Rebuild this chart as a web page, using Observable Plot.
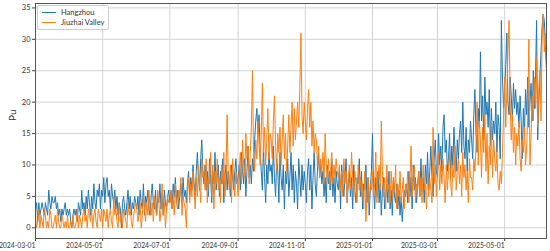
<!DOCTYPE html>
<html><head><meta charset="utf-8">
<script src="https://cdn.jsdelivr.net/npm/d3@7"></script>
<script src="https://cdn.jsdelivr.net/npm/@observablehq/plot@0.6"></script>
<style>
body{margin:0;background:#fff;}
#wrap{position:relative;width:550px;height:251px;font-family:Lato,"DejaVu Sans",sans-serif;}
#legend{position:absolute;left:37px;top:5px;padding:2px 4px 2px 0;border:1px solid #ccc;border-radius:2px;background:rgba(255,255,255,0.85);font-size:7.5px;color:#333;white-space:nowrap;}
#legend .row{display:flex;align-items:center;height:9.5px;}
#legend .sw{width:14px;height:0;border-top:1.2px solid;margin:0 5px 0 4px;}
</style></head><body><div id="wrap"></div>
<script>
const seriesNames = ["Hangzhou", "Jiuzhai Valley"];
const seriesColors = ["#1f77b4", "#ff7f0e"];
const startDay = "2024-03-01";
const xTickLabels = ["2024-03-01","2024-05-01","2024-07-01","2024-09-01","2024-11-01","2025-01-01","2025-03-01","2025-05-01"];
const yTickValues = [0,5,10,15,20,25,30,35];
const yLabel = "Pu";

// Daily values from 2024-03-01, month by month
const hangzhou = [
 3,4,1,4,2,3,4,3,2,4,3,2,6,4,3,5,4,4,5,3,4,2,3,1,3,2,3,4,2,3,2,
 3,1,0,2,3,2,3,1,4,3,2,6,3,4,2,5,3,6,4,2,5,3,7,4,3,6,5,7,3,6,
 5,8,4,7,8,5,6,3,7,5,4,6,3,5,2,4,3,0,4,5,3,2,4,6,3,5,2,4,3,5,4,
 3,5,2,6,4,3,7,2,5,4,6,3,2,5,7,4,3,6,2,5,4,7,3,5,2,6,4,3,5,6,
 4,6,3,7,5,8,4,6,3,5,7,4,8,5,6,4,7,9,5,8,6,10,7,5,9,12,8,6,11,14,9,
 7,10,6,9,5,11,8,4,9,7,12,6,8,10,5,9,7,11,4,8,10,6,9,7,5,10,8,6,9,11,7,
 8,10,6,12,9,7,11,5,9,13,8,10,7,11,9,14,17,19,15,18,12,9,6,13,8,4,10,7,12,9,
 10,7,13,8,5,11,9,4,12,8,6,10,3,9,7,11,5,8,12,6,10,4,9,7,3,11,8,5,10,6,9,
 7,4,9,11,6,10,3,8,12,7,5,9,12,8,10,7,9,5,8,4,10,7,9,6,11,5,8,4,9,7,
 6,9,3,10,7,5,8,11,4,7,9,5,8,3,10,6,4,8,7,11,5,9,3,7,6,10,4,8,2,6,9,
 15,6,3,8,5,9,4,7,2,6,8,3,5,7,4,9,3,6,2,8,5,4,7,3,6,2,5,1,4,6,5,
 7,4,9,5,8,3,10,6,8,4,7,9,5,11,6,8,4,10,7,12,6,9,13,8,5,11,14,9,
 8,15,10,13,9,16,18,12,14,9,11,15,8,13,10,16,12,9,14,11,15,17,12,20,13,11,16,9,14,12,17,
 14,11,18,22,15,12,19,16,28,17,21,14,24,18,20,16,22,13,19,14,17,15,20,12,18,16,11,33,24,19,
 22,26,31,20,18,24,21,17,23,19,22,18,20,16,21,17,11,19,15,22,18,24,16,20,23,17,25,19,24,33,14,
 20,24,28,32,34,33,29,25
];
const jiuzhai = [
 2,0,1,3,0,2,1,0,3,2,0,1,0,3,2,0,0,1,2,0,3,1,0,0,2,1,0,1,0,2,0,
 0,1,0,2,0,0,1,3,0,2,1,0,2,3,1,2,0,3,2,1,3,0,2,3,1,0,3,2,1,3,
 0,3,2,1,3,0,2,3,1,0,5,2,3,1,0,4,1,2,0,3,2,1,0,4,2,3,1,0,2,3,4,
 3,1,2,4,0,2,5,3,1,4,2,6,3,2,4,1,5,3,2,6,4,1,3,7,2,4,0,3,5,4,
 4,6,3,5,2,7,4,3,6,5,8,2,5,4,3,0,6,8,4,7,5,9,6,3,8,5,10,7,4,11,8,
 9,6,11,4,8,7,12,5,10,3,9,7,11,6,8,4,10,7,12,5,9,18,8,6,10,4,11,7,5,9,8,
 5,9,12,7,14,10,8,15,11,13,7,12,16,25,12,9,14,11,17,13,10,15,23,12,16,10,14,19,11,15,
 14,11,17,21,13,9,15,12,16,10,14,18,11,15,9,13,18,12,16,20,13,19,14,17,20,16,22,31,18,15,20,
 17,14,19,22,16,20,13,17,12,15,14,10,13,8,11,9,12,7,15,10,8,11,6,9,12,7,10,8,11,9,
 8,10,6,9,5,11,7,9,4,8,10,6,12,8,5,9,7,4,10,6,8,5,7,3,9,1,5,8,4,7,6,
 9,5,7,12,4,8,10,6,17,9,5,8,3,10,6,7,4,9,5,8,6,10,3,7,5,9,4,6,8,3,7,
 6,9,4,7,13,5,8,10,4,7,6,9,5,8,4,10,6,7,3,9,5,8,6,4,16,7,10,5,
 9,12,6,10,7,11,8,4,10,6,9,12,7,5,10,8,13,6,9,11,7,10,5,12,8,10,6,9,4,11,8,
 8,6,11,9,13,20,10,17,14,8,16,12,18,9,15,7,13,10,17,8,14,11,9,12,7,6,9,7,12,18,
 24,16,22,28,33,20,14,18,12,16,10,15,13,17,11,9,14,12,16,10,13,18,30,10,15,21,17,24,19,27,16,
 22,25,17,30,34,28,31,26
];

const start = new Date(startDay + "T00:00:00Z");
const rows = [];
[hangzhou, jiuzhai].forEach((arr, k) => arr.forEach((v, i) => rows.push({date: d3.utcDay.offset(start, i), value: v, city: seriesNames[k]})));
const end = d3.utcDay.offset(start, hangzhou.length - 1);
const xTicks = xTickLabels.map(s => new Date(s + "T00:00:00Z"));

const chart = Plot.plot({
  width: 550, height: 251,
  marginLeft: 35, marginRight: 4, marginTop: 3, marginBottom: 13,
  style: {fontFamily: 'Lato, "DejaVu Sans", sans-serif', fontSize: "7.2px", color: "#333", background: "white"},
  x: {type: "utc", domain: [start, end]},
  y: {domain: [-1.7, 35.7]},
  color: {domain: seriesNames, range: seriesColors},
  marks: [
    Plot.gridX(xTicks, {stroke: "#d3d3d3", strokeOpacity: 1}),
    Plot.gridY(yTickValues, {stroke: "#d3d3d3", strokeOpacity: 1}),
    Plot.axisX(xTicks, {tickFormat: d3.utcFormat("%Y-%m-%d"), textAnchor: "end", tickSize: 3, tickPadding: 1.5, label: null, stroke: "#444", fontSize: 6.8}),
    Plot.axisY(yTickValues, {tickSize: 3, tickPadding: 2, label: null, stroke: "#444", fontSize: 7.5}),
    Plot.text([yLabel], {frameAnchor: "left", dx: -23, rotate: -90, fontSize: 10, fill: "#333"}),
    Plot.lineY(rows, {x: "date", y: "value", z: "city", stroke: "city", strokeWidth: 1}),
    Plot.frame({stroke: "#555"})
  ]
});
const wrap = document.getElementById("wrap");
wrap.appendChild(chart);
const lg = document.createElement("div");
lg.id = "legend";
seriesNames.forEach((n, k) => {
  const r = document.createElement("div"); r.className = "row";
  const s = document.createElement("span"); s.className = "sw"; s.style.borderColor = seriesColors[k];
  const t = document.createElement("span"); t.textContent = n;
  r.appendChild(s); r.appendChild(t); lg.appendChild(r);
});
wrap.appendChild(lg);
</script></body></html>
